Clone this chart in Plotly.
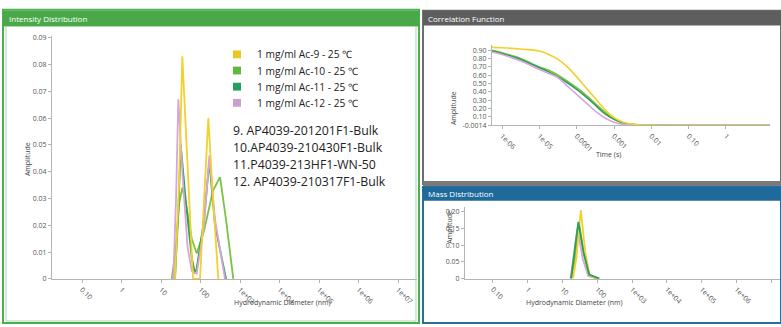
import plotly.graph_objects as go

W, H = 781, 327

# ---------------- data ----------------
series_names = ["1 mg/ml Ac-9 - 25 ℃", "1 mg/ml Ac-10 - 25 ℃", "1 mg/ml Ac-11 - 25 ℃", "1 mg/ml Ac-12 - 25 ℃"]
sample_labels = ["9. AP4039-201201F1-Bulk", "10.AP4039-210430F1-Bulk", "11.P4039-213HF1-WN-50", "12. AP4039-210317F1-Bulk"]
colors = ["#f2d12c", "#7cc242", "#2e9e5b", "#d6a6da"]
legend_colors = ["#e9c91f", "#5fb83f", "#23a05b", "#c9a0d0"]

# Intensity distribution (diameter nm, intensity)
int_d_ac9 = [22.6, 28.6, 34.6, 46.9, 64.6, 97.1, 122.7, 157.5, 207, 282]
int_v_ac9 = [0, 0.035, 0.083, 0.040, 0, 0, 0.030, 0.060, 0.030, 0]
int_d_ac10 = [18.7, 24.0, 28.6, 34.6, 43.0, 59.9, 80.1, 122.7, 207, 312, 443, 676]
int_v_ac10 = [0, 0.012, 0.028, 0.034, 0.028, 0.015, 0.0095, 0.018, 0.033, 0.038, 0.022, 0]
int_d_ac11 = [22.6, 27.4, 31.5, 43.0, 59.9, 72.6, 80.1, 122.7, 167, 233, 443]
int_v_ac11 = [0, 0.025, 0.050, 0.028, 0.008, 0.002, 0.004, 0.022, 0.044, 0.020, 0]
int_d_ac12 = [20.5, 24.0, 27.4, 34.6, 46.9, 59.9, 80.1, 122.7, 167, 233, 417]
int_v_ac12 = [0, 0.030, 0.067, 0.040, 0.012, 0.003, 0.002, 0.020, 0.046, 0.022, 0]

# Correlation function (time s, amplitude)
corr_t = [5.4e-7, 1e-6, 3.16e-6, 1e-5, 1.78e-5, 3.16e-5, 5.62e-5, 1e-4, 1.78e-4, 3.16e-4,
          5.62e-4, 1e-3, 1.78e-3, 3.16e-3, 1e-2, 1e-1, 1, 15]
corr_ac9 = [0.935, 0.93, 0.915, 0.89, 0.85, 0.79, 0.70, 0.58, 0.45, 0.32, 0.19, 0.09, 0.035, 0.012, 0.002, 0, 0, 0]
corr_ac10 = [0.90, 0.87, 0.80, 0.70, 0.66, 0.60, 0.53, 0.45, 0.36, 0.26, 0.16, 0.08, 0.03, 0.01, 0.002, 0, 0, 0]
corr_ac11 = [0.89, 0.86, 0.79, 0.69, 0.64, 0.58, 0.51, 0.43, 0.34, 0.24, 0.14, 0.07, 0.025, 0.008, 0.001, 0, 0, 0]
corr_ac12 = [0.88, 0.85, 0.77, 0.67, 0.62, 0.57, 0.47, 0.37, 0.27, 0.17, 0.09, 0.035, 0.01, 0.003, 0, 0, 0, 0]

# Mass distribution (diameter nm, mass)
mass_d_ac9 = [20, 25, 33.7, 45, 60, 90]
mass_v_ac9 = [0, 0.06, 0.205, 0.08, 0.01, 0]
mass_d_ac10 = [17.7, 23, 30.6, 42, 59, 114]
mass_v_ac10 = [0, 0.06, 0.16, 0.07, 0.01, 0]
mass_d_ac11 = [17.7, 22, 28.6, 40, 59, 114]
mass_v_ac11 = [0, 0.07, 0.17, 0.08, 0.012, 0]
mass_d_ac12 = [17, 21, 27, 38, 55, 100]
mass_v_ac12 = [0, 0.07, 0.15, 0.06, 0.008, 0]

diam_tickvals = [0.1, 1, 10, 100, 1e3, 1e4, 1e5, 1e6, 1e7]
diam_ticktext = ["0.10", "1", "10", "100", "1e+03", "1e+04", "1e+05", "1e+06", "1e+07"]
time_tickvals = [1e-6, 1e-5, 1e-4, 1e-3, 1e-2, 0.1, 1]
time_ticktext = ["1e-06", "1e-05", "0.0001", "0.001", "0.01", "0.10", "1"]
int_tickvals = [0, 0.01, 0.02, 0.03, 0.04, 0.05, 0.06, 0.07, 0.08, 0.09]
int_ticktext = ["0", "0.01", "0.02", "0.03", "0.04", "0.05", "0.06", "0.07", "0.08", "0.09"]
corr_tickvals = [-0.0014, 0.1, 0.2, 0.3, 0.4, 0.5, 0.6, 0.7, 0.8, 0.9]
corr_ticktext = ["-0.0014", "0.10", "0.20", "0.30", "0.40", "0.50", "0.60", "0.70", "0.80", "0.90"]
mass_tickvals = [0, 0.05, 0.10, 0.15, 0.20]
mass_ticktext = ["0", "0.05", "0.10", "0.15", "0.20"]

# ---------------- figure ----------------
def px(x):
    return x / W

def py(y):
    return 1 - y / H

fig = go.Figure()

int_data = [(int_d_ac9, int_v_ac9), (int_d_ac10, int_v_ac10), (int_d_ac11, int_v_ac11), (int_d_ac12, int_v_ac12)]
corr_data = [corr_ac9, corr_ac10, corr_ac11, corr_ac12]
mass_data = [(mass_d_ac9, mass_v_ac9), (mass_d_ac10, mass_v_ac10), (mass_d_ac11, mass_v_ac11), (mass_d_ac12, mass_v_ac12)]

order = [1, 2, 3, 0]
for i in order:
    d, v = int_data[i]
    fig.add_trace(go.Scatter(x=d, y=v, mode="lines", line=dict(color=colors[i], width=1.8),
                             name=series_names[i], showlegend=False, xaxis="x", yaxis="y"))
for i in order:
    fig.add_trace(go.Scatter(x=corr_t, y=corr_data[i], mode="lines",
                             line=dict(color=colors[i], width=1.6, shape="spline"),
                             name=series_names[i], showlegend=False, xaxis="x2", yaxis="y2"))
for i in [3, 1, 0, 2]:
    d, v = mass_data[i]
    fig.add_trace(go.Scatter(x=d, y=v, mode="lines", line=dict(color=colors[i], width=1.8),
                             name=series_names[i], showlegend=False, xaxis="x3", yaxis="y3"))

axis_common = dict(showline=True, linecolor="#b4b4b4", linewidth=1, ticks="outside", ticklen=3,
                   tickcolor="#b4b4b4", showgrid=False, zeroline=False,
                   tickfont=dict(size=7, color="#555555", family="Open Sans"))

fig.update_layout(
    width=W, height=H, margin=dict(l=0, r=0, t=0, b=0),
    paper_bgcolor="white", plot_bgcolor="white",
    font=dict(family="Open Sans"),
    showlegend=False,
    xaxis=dict(type="log", range=[-1.76, 7.48], domain=[px(52), px(417)], anchor="y",
               tickvals=diam_tickvals, ticktext=diam_ticktext, tickangle=45, **axis_common),
    yaxis=dict(range=[0, 0.0905], domain=[py(282), py(34)], anchor="x",
               tickvals=int_tickvals, ticktext=int_ticktext, **axis_common),
    xaxis2=dict(type="log", range=[-6.27, 1.18], domain=[px(492), px(770)], anchor="y2",
                tickvals=time_tickvals, ticktext=time_ticktext, tickangle=45, **axis_common),
    yaxis2=dict(range=[-0.0014, 0.962], domain=[py(125), py(43)], anchor="x2",
                tickvals=corr_tickvals, ticktext=corr_ticktext, **axis_common),
    xaxis3=dict(type="log", range=[-1.8, 7.25], domain=[px(465), px(780)], anchor="y3",
                tickvals=diam_tickvals, ticktext=diam_ticktext, tickangle=45, **axis_common),
    yaxis3=dict(range=[0, 0.2155], domain=[py(281.7), py(208)], anchor="x3",
                tickvals=mass_tickvals, ticktext=mass_ticktext, **axis_common),
)

shapes = [
    # left panel
    dict(type="rect", xref="paper", yref="paper", x0=px(3), x1=px(419), y0=py(327), y1=py(7),
         line=dict(color="#4caf50", width=2), fillcolor="rgba(0,0,0,0)"),
    dict(type="rect", xref="paper", yref="paper", x0=px(3), x1=px(419), y0=py(24), y1=py(8),
         line=dict(width=0), fillcolor="#49a949"),
    dict(type="rect", xref="paper", yref="paper", x0=px(6), x1=px(416), y0=py(325), y1=py(24),
         line=dict(color="#a9d8ab", width=1), fillcolor="rgba(0,0,0,0)"),
    # top right panel
    dict(type="rect", xref="paper", yref="paper", x0=px(423), x1=px(781), y0=py(185), y1=py(8),
         line=dict(color="#6e6e6e", width=2), fillcolor="rgba(0,0,0,0)"),
    dict(type="rect", xref="paper", yref="paper", x0=px(423), x1=px(781), y0=py(23), y1=py(8),
         line=dict(width=0), fillcolor="#5e5e5e"),
    dict(type="rect", xref="paper", yref="paper", x0=px(423), x1=px(781), y0=py(187), y1=py(182),
         line=dict(width=0), fillcolor="#7a7a7a"),
    # bottom right panel
    dict(type="rect", xref="paper", yref="paper", x0=px(423), x1=px(781), y0=py(327), y1=py(188),
         line=dict(color="#2a6f9c", width=2), fillcolor="rgba(0,0,0,0)"),
    dict(type="rect", xref="paper", yref="paper", x0=px(423), x1=px(781), y0=py(202), y1=py(188),
         line=dict(width=0), fillcolor="#1d6a9b"),
]

ann = []
# legend (squares + labels)
for k in range(4):
    yc = 52.5 + k * 16.5
    shapes.append(dict(type="rect", xref="paper", yref="paper", x0=px(233), x1=px(241),
                       y0=py(yc + 4), y1=py(yc - 4), line=dict(width=0), fillcolor=legend_colors[k]))
    ann.append(dict(text=series_names[k], x=px(255), y=py(yc), xref="paper", yref="paper",
                    xanchor="left", yanchor="middle", showarrow=False,
                    font=dict(size=10.2, color="#222222", family="Open Sans")))
fig.update_layout(shapes=shapes)

title_font = dict(size=8, color="white", family="Open Sans")
ann.append(dict(text="Intensity Distribution", x=px(7), y=py(16), xref="paper", yref="paper",
                xanchor="left", yanchor="middle", showarrow=False, font=title_font))
ann.append(dict(text="Correlation Function", x=px(426), y=py(15.5), xref="paper", yref="paper",
                xanchor="left", yanchor="middle", showarrow=False, font=title_font))
ann.append(dict(text="Mass Distribution", x=px(426), y=py(195), xref="paper", yref="paper",
                xanchor="left", yanchor="middle", showarrow=False, font=title_font))
axt_font = dict(size=7, color="#444444", family="Open Sans")
ann.append(dict(text="Hydrodynamic Diameter (nm)", x=px(232), y=py(313), xref="paper", yref="paper",
                showarrow=False, font=axt_font))
ann.append(dict(text="Hydrodynamic Diameter (nm)", x=px(625), y=py(313), xref="paper", yref="paper",
                showarrow=False, font=axt_font))
ann.append(dict(text="Time (s)", x=px(623), y=py(155), xref="paper", yref="paper",
                showarrow=False, font=axt_font))
ann.append(dict(text="Amplitude", x=px(21), y=py(160), xref="paper", yref="paper",
                showarrow=False, textangle=-90, font=axt_font))
ann.append(dict(text="Amplitude", x=px(453), y=py(88), xref="paper", yref="paper",
                showarrow=False, textangle=-90, font=axt_font))
ann.append(dict(text="Amplitude", x=px(450), y=py(248), xref="paper", yref="paper",
                showarrow=False, textangle=-90, font=axt_font))
for k, lab in enumerate(sample_labels):
    ann.append(dict(text=lab, x=px(231), y=py(130 + k * 17.5), xref="paper", yref="paper",
                    xanchor="left", yanchor="middle", showarrow=False,
                    font=dict(size=12.3, color="#222222", family="Open Sans")))
fig.update_layout(annotations=ann)

fig.write_html("out.html", config={"displayModeBar": False},
               post_script="document.body.style.margin='0';document.body.style.overflow='hidden';")
